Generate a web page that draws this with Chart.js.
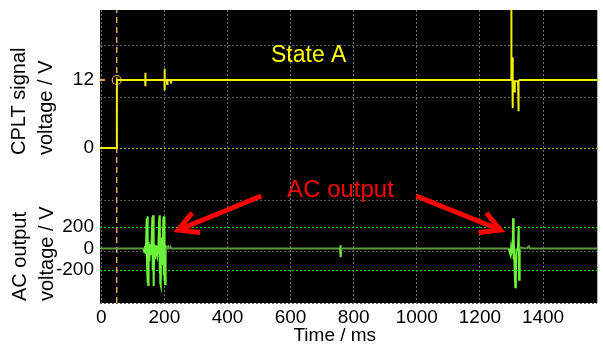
<!DOCTYPE html>
<html>
<head>
<meta charset="utf-8">
<script src="https://cdn.jsdelivr.net/npm/chart.js@4.4.1/dist/chart.umd.min.js"></script>
<style>
  html, body { margin: 0; padding: 0; background: #fff; }
  #wrap { width: 603px; height: 345px; }
</style>
</head>
<body>
<div id="wrap"><canvas id="myChart"></canvas></div>
<script>
const FONT = '"Liberation Sans", Arial, sans-serif';

// axes
const timeTicks = [0, 200, 400, 600, 800, 1000, 1200, 1400];
const cpltTicks = [0, 12];
const acTicks = [-200, 0, 200];
const graticule = [0, 1, 2, 3, 4, 5];

// CPLT signal (ms, V)
const cpltTime = [-4, 49, 49.5, 139, 139.5, 140, 140.5, 200, 200.5, 201, 201.5, 208, 209, 210, 220, 221, 222,
                  1299, 1299.5, 1300, 1303, 1303.5, 1304, 1304.5, 1309, 1310, 1311, 1321, 1322, 1323, 1326, 1572];
const cpltVolt = [0, 0, 12, 12, 13.3, 10.9, 12, 12, 14, 10.2, 12, 12, 11.3, 12, 12, 11.4, 12,
                  12, 30, 12, 12, 16, 7, 11.8, 11.8, 9.8, 11.8, 11.8, 6.5, 11.8, 12, 12];

// AC output (ms, V)
const acTime = [-4, 134, 136, 138, 141,
                144, 145, 146, 147, 148, 149, 150, 152, 155, 158,
                162, 163, 164, 165, 166, 167, 168, 171, 174, 178, 181,
                184, 185, 186, 187, 188, 189, 190, 192, 194,
                197, 198, 199, 200, 201, 202, 203, 205, 208, 212, 215, 219, 222,
                757, 758, 759, 760, 761,
                1292, 1295, 1297, 1299, 1301, 1304, 1305, 1306, 1308, 1310, 1312, 1314, 1316, 1320,
                1323, 1324, 1326, 1330, 1340, 1350, 1355, 1358, 1572];
const acVolt = [0, 0, -30, 20, -50,
                280, -150, 300, -320, 150, -340, 60, -120, 40, -60,
                290, -200, 310, -330, 120, -350, 40, -100, 30, -60, 20,
                300, -230, 310, -320, 100, -340, 50, -150, 20,
                290, -250, 300, -300, 80, -330, 30, -20, 0, 20, 0, 15, 0,
                0, 30, -80, -20, 0,
                0, -40, -60, 10, -30, 0, 280, -100, 120, -200, -360, -250, 0, -20,
                210, -290, 0, 10, 0, 5, 20, 0, 0];

// cursor
const cursorTime = 49;
const cursorLevel = 12;

// annotations: [time ms, value on its own axis]
const stateAPos = [538, 15.2];
const acLabelPos = [589, 479];
const arrowLeft = [[507, 488], [244, 172]];
const arrowRight = [[998, 488], [1265, 172]];

const toPoints = (xs, ys) => xs.map((x, i) => ({x: x, y: ys[i]}));

function drawArrow(ctx, x0, y0, x1, y1) {
    const ang = Math.atan2(y0 - y1, x0 - x1);
    const len = 22, spread = 0.5;
    ctx.beginPath();
    ctx.moveTo(x0, y0);
    ctx.lineTo(x1, y1);
    ctx.moveTo(x1 + len * Math.cos(ang - spread), y1 + len * Math.sin(ang - spread));
    ctx.lineTo(x1, y1);
    ctx.lineTo(x1 + len * Math.cos(ang + spread), y1 + len * Math.sin(ang + spread));
    ctx.stroke();
}

function rotatedLines(ctx, lines, xs, yStart) {
    lines.forEach((t, i) => {
        ctx.save();
        ctx.translate(xs[i], yStart);
        ctx.rotate(-Math.PI / 2);
        ctx.textAlign = 'left';
        ctx.textBaseline = 'alphabetic';
        ctx.fillText(t, 0, 0);
        ctx.restore();
    });
}

function noPad(s) {
    s.paddingTop = 0;
    s.paddingBottom = 0;
    s.paddingLeft = 0;
    s.paddingRight = 0;
}

const scopePlugin = {
    id: 'scope',
    beforeDraw(chart) {
        const {ctx, chartArea: a} = chart;
        ctx.save();
        ctx.fillStyle = '#000';
        ctx.fillRect(a.left, a.top, a.right - a.left, a.bottom - a.top);
        ctx.restore();
    },
    beforeDatasetsDraw(chart) {
        // dotted reference lines at the +/-200 V ticks
        const {ctx, chartArea: a} = chart;
        const ya = chart.scales.yAc;
        ctx.save();
        ctx.strokeStyle = '#00d800';
        ctx.lineWidth = 1.2;
        ctx.setLineDash([2, 2]);
        for (const v of acTicks) {
            if (v === 0) continue;
            const y = Math.round(ya.getPixelForValue(v)) + 0.5;
            ctx.beginPath();
            ctx.moveTo(a.left, y);
            ctx.lineTo(a.right, y);
            ctx.stroke();
        }
        ctx.restore();
    },
    afterDraw(chart) {
        const {ctx, scales} = chart;
        const x = scales.x, yc = scales.yCplt, ya = scales.yAc;
        ctx.save();
        ctx.font = '23px ' + FONT;
        ctx.fillStyle = '#ffff00';
        ctx.fillText('State A', x.getPixelForValue(stateAPos[0]), yc.getPixelForValue(stateAPos[1]));
        ctx.font = '24px ' + FONT;
        ctx.fillStyle = '#ff0000';
        ctx.fillText('AC output', x.getPixelForValue(acLabelPos[0]), ya.getPixelForValue(acLabelPos[1]));

        ctx.strokeStyle = '#ff0000';
        ctx.lineWidth = 5;
        for (const arr of [arrowLeft, arrowRight]) {
            drawArrow(ctx, x.getPixelForValue(arr[0][0]), ya.getPixelForValue(arr[0][1]),
                      x.getPixelForValue(arr[1][0]), ya.getPixelForValue(arr[1][1]));
        }

        ctx.fillStyle = '#000';
        ctx.font = '20px ' + FONT;
        rotatedLines(ctx, ['CPLT signal', 'voltage / V'], [25, 52], 155);
        rotatedLines(ctx, ['AC output', 'voltage / V'], [26, 53], 301);

        ctx.font = '19px ' + FONT;
        ctx.textAlign = 'center';
        ctx.fillText('Time / ms', x.getPixelForValue(740), 341);
        ctx.restore();
    }
};

const ctx = document.getElementById('myChart').getContext('2d');
const myChart = new Chart(ctx, {
    type: 'line',
    data: {
        datasets: [
            {
                label: 'CPLT',
                data: toPoints(cpltTime, cpltVolt),
                yAxisID: 'yCplt',
                borderColor: '#f2f200',
                borderWidth: 2,
                pointRadius: 0,
                tension: 0
            },
            {
                label: 'AC',
                data: toPoints(acTime, acVolt),
                yAxisID: 'yAc',
                borderColor: '#6cf23a',
                borderWidth: 2,
                pointRadius: 0,
                tension: 0,
                segment: {
                    borderColor: c => (Math.abs(c.p0.parsed.y) < 25 && Math.abs(c.p1.parsed.y) < 25) ? '#5e9a3e' : '#6cf23a'
                }
            },
            {
                label: 'cursor ring',
                data: [{x: cursorTime, y: cursorLevel}],
                yAxisID: 'yCplt',
                showLine: false,
                pointRadius: 4.5,
                pointBorderColor: '#e8a040',
                pointBackgroundColor: 'rgba(0,0,0,0)',
                pointBorderWidth: 1.2
            },
            {
                label: 'level mark',
                data: [{x: -4, y: cursorLevel}, {x: 12, y: cursorLevel}],
                yAxisID: 'yCplt',
                borderColor: '#e8a040',
                borderWidth: 2,
                pointRadius: 0
            },
            {
                label: 'cursor',
                data: [{x: cursorTime, y: 0}, {x: cursorTime, y: 5.69}],
                yAxisID: 'yDiv',
                borderColor: '#e0a458',
                borderWidth: 1.5,
                borderDash: [6, 4],
                pointRadius: 0
            }
        ]
    },
    options: {
        responsive: true,
        maintainAspectRatio: false,
        animation: false,
        layout: {padding: {top: 10, left: 0, right: 0, bottom: 0}},
        plugins: {
            legend: {display: false},
            tooltip: {enabled: false}
        },
        scales: {
            x: {
                type: 'linear',
                min: -4,
                max: 1572,
                afterBuildTicks: s => { s.ticks = timeTicks.map(v => ({value: v})); },
                afterFit: s => { s.height = 42; noPad(s); },
                grid: {color: '#6e6e6e', drawTicks: false, lineWidth: 1},
                border: {display: false, dash: [2, 2]},
                ticks: {color: '#000', font: {family: FONT, size: 19}, padding: 3, maxRotation: 0,
                        callback: v => String(v)}
            },
            yCplt: {
                type: 'linear',
                position: 'left',
                stack: 'scope',
                stackWeight: 180,
                weight: 2,
                min: -7.41,
                max: 24.35,
                afterBuildTicks: s => { s.ticks = cpltTicks.map(v => ({value: v})); },
                afterFit: s => { s.width = 100; noPad(s); },
                grid: {color: c => c.tick && c.tick.value === 0 ? '#b8b800' : 'rgba(0,0,0,0)', drawTicks: false},
                border: {display: false, dash: [2, 2]},
                ticks: {color: '#000', font: {family: FONT, size: 19}, padding: 6}
            },
            yAc: {
                type: 'linear',
                position: 'left',
                stack: 'scope',
                stackWeight: 113,
                weight: 1,
                min: -507,
                max: 544,
                afterBuildTicks: s => { s.ticks = acTicks.map(v => ({value: v})); },
                afterFit: s => { s.width = 100; noPad(s); },
                grid: {display: false, drawTicks: false},
                border: {display: false},
                ticks: {color: '#000', font: {family: FONT, size: 19}, padding: 6}
            },
            yDiv: {
                type: 'linear',
                position: 'right',
                min: 0,
                max: 5.69,
                afterBuildTicks: s => { s.ticks = graticule.map(v => ({value: v})); },
                afterFit: s => { s.width = 0; noPad(s); },
                grid: {color: c => c.tick && c.tick.value === 3 ? 'rgba(0,0,0,0)' : '#5c5c5c', drawTicks: false},
                border: {display: false, dash: [2, 2]},
                ticks: {display: false}
            }
        }
    },
    plugins: [scopePlugin]
});
</script>
</body>
</html>
